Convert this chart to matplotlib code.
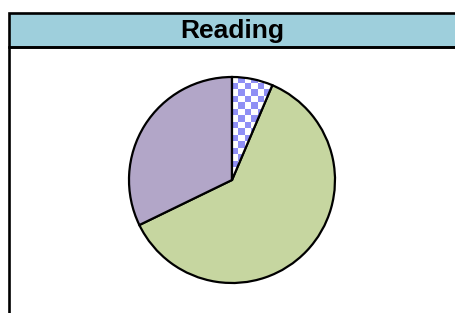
import numpy as np
import matplotlib
matplotlib.use('Agg')
import matplotlib.pyplot as plt
from matplotlib.patches import Rectangle

# slice values, clockwise from 12 o'clock
labels = ['Checked', 'Green', 'Purple']
values = [6.4, 61.4, 32.2]
colors = ['#8f8ff5', '#c6d6a0', '#b2a6c8']
title = 'Reading'

W, H = 456, 313
fig = plt.figure(figsize=(W / 100, H / 100), dpi=100)

# outer frame and header band (pixel coords -> figure fraction)
def fx(px):
    return px / W


def fy(py):
    return 1 - py / H


fig.patches.append(Rectangle((fx(9), fy(47)), fx(470) - fx(9), fy(13) - fy(47),
                             transform=fig.transFigure, facecolor='#9ecfdc',
                             edgecolor='black', linewidth=1.9, zorder=1))
fig.patches.append(Rectangle((fx(9), fy(330)), fx(470) - fx(9), fy(47) - fy(330),
                             transform=fig.transFigure, facecolor='none',
                             edgecolor='black', linewidth=1.9, zorder=1))
fig.text(fx(232), fy(31), title, ha='center', va='center', fontsize=19,
         fontweight='bold', family='Liberation Sans')

# pie axes
cx, cy, r, half = 232, 180, 103, 110
ax = fig.add_axes([fx(cx - half), fy(cy + half), 2 * half / W, 2 * half / H])

wedges, _ = ax.pie(values, colors=colors, startangle=90, counterclock=False,
                   radius=1, wedgeprops=dict(edgecolor='black', linewidth=1.6))

lim = half / r

# checker pattern for the first slice
n = 34
checker = (np.add.outer(np.arange(n), np.arange(n)) % 2).astype(float)
cmap = matplotlib.colors.ListedColormap(['white', colors[0]])
im = ax.imshow(checker, cmap=cmap, extent=[-lim, lim, -lim, lim],
               interpolation='nearest', zorder=2)
im.set_clip_path(wedges[0])
wedges[0].set_zorder(3)
wedges[0].set_facecolor('none')

ax.set_xlim(-lim, lim)
ax.set_ylim(-lim, lim)
ax.set_aspect('equal')
ax.axis('off')

fig.savefig('out.png', dpi=100)
